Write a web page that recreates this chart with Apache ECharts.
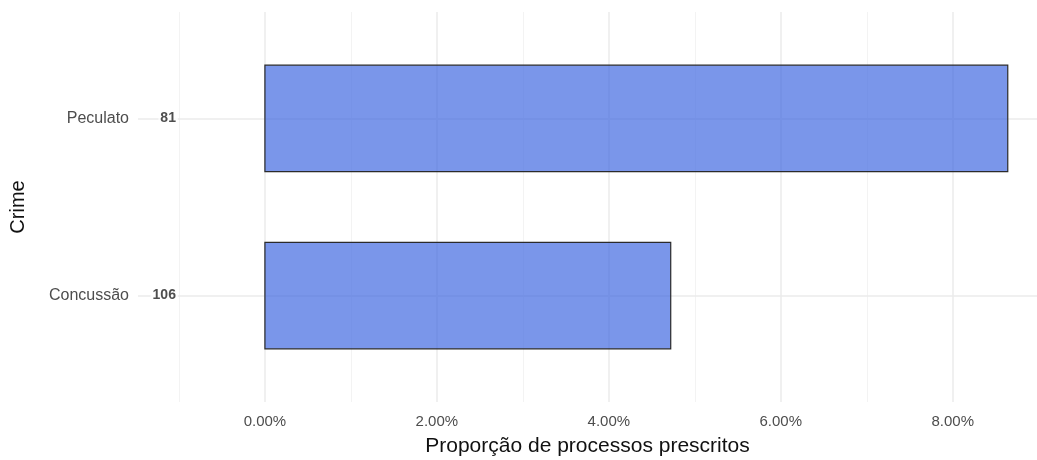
<!DOCTYPE html>
<html>
<head>
<meta charset="utf-8">
<script src="https://cdn.jsdelivr.net/npm/echarts@6/dist/echarts.min.js"></script>
<style>html,body{margin:0;padding:0;background:#fff}#c{width:1037px;height:460px}</style>
</head>
<body>
<div id="c"></div>
<script>
const categories = ['Concussão', 'Peculato'];
const proportions = [4.72, 8.64];   // % of processes prescribed
const counts = [106, 81];
const xTicks = [0, 2, 4, 6, 8];
const xMinor = [-1, 1, 3, 5, 7];

const chart = echarts.init(document.getElementById('c'));
const FONT = 'Liberation Sans, Arial, sans-serif';

const barData = proportions.map((v, i) => [v, i + 1]);
const countData = counts.map((n, i) => [-1.0, i + 1, n]);

const gridLines = [];
xMinor.forEach(v => gridLines.push({xAxis: v, lineStyle: {color: '#f3f3f3', width: 1, type: 'solid'}}));
xTicks.forEach(v => gridLines.push({xAxis: v, lineStyle: {color: '#ebebeb', width: 1.5, type: 'solid'}}));
categories.forEach((c, i) => gridLines.push({yAxis: i + 1, lineStyle: {color: '#ebebeb', width: 1.5, type: 'solid'}}));

chart.setOption({
  animation: false,
  textStyle: {fontFamily: FONT},
  grid: {left: 138, right: 0, top: 12, bottom: 58, outerBoundsMode: 'none', containLabel: false},
  xAxis: {
    type: 'value', min: -1.476, max: 8.98,
    axisLine: {show: false}, axisTick: {show: false}, splitLine: {show: false},
    axisLabel: {customValues: xTicks, formatter: v => v.toFixed(2) + '%', color: '#4d4d4d', fontSize: 15, margin: 12, fontFamily: FONT},
    name: 'Proporção de processos prescritos', nameLocation: 'middle', nameGap: 34,
    nameTextStyle: {color: '#111', fontSize: 21, fontFamily: FONT}
  },
  yAxis: {
    type: 'value', min: 0.4, max: 2.6,
    axisLine: {show: false}, axisTick: {show: false}, splitLine: {show: false},
    axisLabel: {customValues: [1, 2], formatter: v => categories[Math.round(v) - 1] || '', color: '#4d4d4d', fontSize: 16, margin: 9, fontFamily: FONT},
    name: 'Crime', nameLocation: 'middle', nameGap: 110, nameRotate: 90,
    nameTextStyle: {color: '#111', fontSize: 20, fontFamily: FONT}
  },
  series: [
    {
      type: 'line', data: [], z: 0, silent: true,
      markLine: {z: 0, silent: true, symbol: 'none', label: {show: false}, animation: false, data: gridLines}
    },
    {
      type: 'custom', z: 3, data: barData,
      renderItem: (params, api) => {
        const v = api.value(0), y = api.value(1);
        const p0 = api.coord([0, y + 0.3]);
        const p1 = api.coord([v, y - 0.3]);
        return {type: 'rect', shape: {x: p0[0], y: p0[1], width: p1[0] - p0[0], height: p1[1] - p0[1]},
          style: {fill: 'rgba(65,105,225,0.7)', stroke: '#2b2b2b', lineWidth: 1.2}};
      }
    },
    {
      type: 'scatter', z: 4, data: countData, symbolSize: 0, silent: true,
      label: {show: true, position: 'left', distance: 1, formatter: p => p.value[2],
        color: '#222', fontSize: 14, fontWeight: 'bold', fontFamily: FONT,
        backgroundColor: '#fff', padding: [1, 2]}
    }
  ]
});
</script>
</body>
</html>
